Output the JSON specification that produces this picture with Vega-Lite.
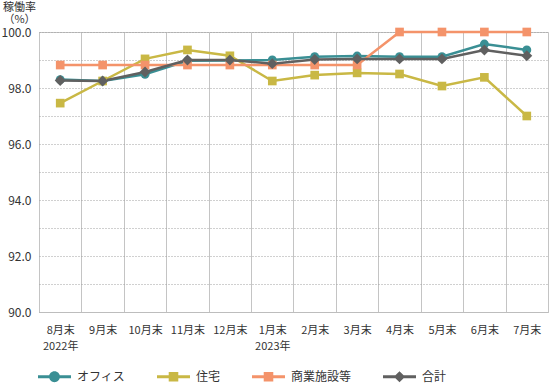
{
  "$schema": "https://vega.github.io/schema/vega-lite/v6.json",
  "width": 509,
  "height": 280,
  "autosize": {"type": "none"},
  "padding": {"left": 39, "top": 32, "right": 1, "bottom": 71},
  "background": "white",
  "config": {
    "font": "Noto Sans CJK JP",
    "view": {"stroke": "#c4c4c4", "strokeWidth": 1}
  },
  "data": {
    "values": [
      {"m": "8月末", "s": "オフィス", "v": 98.3},
      {"m": "9月末", "s": "オフィス", "v": 98.25},
      {"m": "10月末", "s": "オフィス", "v": 98.49},
      {"m": "11月末", "s": "オフィス", "v": 98.97},
      {"m": "12月末", "s": "オフィス", "v": 98.98},
      {"m": "1月末", "s": "オフィス", "v": 99.0},
      {"m": "2月末", "s": "オフィス", "v": 99.12},
      {"m": "3月末", "s": "オフィス", "v": 99.14},
      {"m": "4月末", "s": "オフィス", "v": 99.12},
      {"m": "5月末", "s": "オフィス", "v": 99.12},
      {"m": "6月末", "s": "オフィス", "v": 99.57},
      {"m": "7月末", "s": "オフィス", "v": 99.36},
      {"m": "8月末", "s": "住宅", "v": 97.46},
      {"m": "9月末", "s": "住宅", "v": 98.25},
      {"m": "10月末", "s": "住宅", "v": 99.04},
      {"m": "11月末", "s": "住宅", "v": 99.36},
      {"m": "12月末", "s": "住宅", "v": 99.15},
      {"m": "1月末", "s": "住宅", "v": 98.25},
      {"m": "2月末", "s": "住宅", "v": 98.46},
      {"m": "3月末", "s": "住宅", "v": 98.54},
      {"m": "4月末", "s": "住宅", "v": 98.5},
      {"m": "5月末", "s": "住宅", "v": 98.07},
      {"m": "6月末", "s": "住宅", "v": 98.38},
      {"m": "7月末", "s": "住宅", "v": 97.0},
      {"m": "8月末", "s": "商業施設等", "v": 98.82},
      {"m": "9月末", "s": "商業施設等", "v": 98.82},
      {"m": "10月末", "s": "商業施設等", "v": 98.82},
      {"m": "11月末", "s": "商業施設等", "v": 98.82},
      {"m": "12月末", "s": "商業施設等", "v": 98.82},
      {"m": "1月末", "s": "商業施設等", "v": 98.82},
      {"m": "2月末", "s": "商業施設等", "v": 98.82},
      {"m": "3月末", "s": "商業施設等", "v": 98.82},
      {"m": "4月末", "s": "商業施設等", "v": 100.0},
      {"m": "5月末", "s": "商業施設等", "v": 100.0},
      {"m": "6月末", "s": "商業施設等", "v": 100.0},
      {"m": "7月末", "s": "商業施設等", "v": 100.0},
      {"m": "8月末", "s": "合計", "v": 98.27},
      {"m": "9月末", "s": "合計", "v": 98.25},
      {"m": "10月末", "s": "合計", "v": 98.57},
      {"m": "11月末", "s": "合計", "v": 99.0},
      {"m": "12月末", "s": "合計", "v": 99.0},
      {"m": "1月末", "s": "合計", "v": 98.87},
      {"m": "2月末", "s": "合計", "v": 99.02},
      {"m": "3月末", "s": "合計", "v": 99.04},
      {"m": "4月末", "s": "合計", "v": 99.04},
      {"m": "5月末", "s": "合計", "v": 99.04},
      {"m": "6月末", "s": "合計", "v": 99.36},
      {"m": "7月末", "s": "合計", "v": 99.15}
    ]
  },
  "encoding": {
    "x": {
      "field": "m",
      "type": "ordinal",
      "sort": ["8月末","9月末","10月末","11月末","12月末","1月末","2月末","3月末","4月末","5月末","6月末","7月末"],
      "scale": {"type": "band", "paddingInner": 0, "paddingOuter": 0},
      "bandPosition": 0.5,
      "axis": {
        "title": null,
        "labelAngle": 0,
        "labelFontSize": 11,
        "labelColor": "#333",
        "labelPadding": 12,
        "labelLineHeight": 16,
        "labelBaseline": "top",
        "labelExpr": "datum.value == '8月末' ? ['8月末', '2022年'] : datum.value == '1月末' ? ['1月末', '2023年'] : datum.value",
        "ticks": false,
        "domain": true,
        "domainColor": "#bdbdbd",
        "grid": true,
        "gridColor": "#c4c4c4",
        "gridDash": [],
        "gridOpacity": 1,
        "tickBand": "extent"
      }
    },
    "y": {
      "field": "v",
      "type": "quantitative",
      "scale": {"domain": [90, 100], "nice": false, "zero": false},
      "axis": {
        "values": [90, 91, 92, 93, 94, 95, 96, 97, 98, 99, 100],
        "labelExpr": "datum.value % 2 == 0 ? format(datum.value, '.1f') : ''",
        "labelFontSize": 12,
        "labelColor": "#333",
        "labelPadding": 8,
        "ticks": false,
        "domain": false,
        "grid": true,
        "gridColor": "#a0a0a0",
        "gridDash": [1, 2],
        "title": ["稼働率", "（%）"],
        "titleFontSize": 11,
        "titleFontWeight": "normal",
        "titleColor": "#333",
        "titleAngle": 0,
        "titleAlign": "center",
        "titleBaseline": "top",
        "titleLineHeight": 12.5,
        "titleX": -20,
        "titleY": -31
      }
    },
    "color": {
      "field": "s",
      "type": "nominal",
      "scale": {
        "domain": ["オフィス", "住宅", "商業施設等", "合計"],
        "range": ["#3a8f94", "#c9b845", "#f4936a", "#606060"]
      },
      "legend": {
        "orient": "none",
        "legendX": -1,
        "legendY": 328,
        "direction": "horizontal",
        "title": null,
        "padding": 0,
        "columnPadding": 31,
        "labelOffset": 6,
        "labelFontSize": 12,
        "labelColor": "#333",
        "symbolSize": 1089,
        "symbolStrokeWidth": 0,
        "symbolOpacity": 1
      }
    }
  },
  "layer": [
    {
      "mark": {"type": "line", "strokeWidth": 2.5},
      "encoding": {}
    },
    {
      "transform": [{"filter": "datum.s == 'オフィス'"}],
      "mark": {"type": "point", "shape": "circle", "filled": true, "opacity": 1, "size": 80}
    },
    {
      "transform": [{"filter": "datum.s == '住宅' || datum.s == '商業施設等'"}],
      "mark": {"type": "point", "shape": "square", "filled": true, "opacity": 1, "size": 75}
    },
    {
      "transform": [{"filter": "datum.s == '合計'"}],
      "mark": {"type": "point", "shape": "diamond", "filled": true, "opacity": 1, "size": 120}
    },
    {
      "transform": [{"filter": "false"}],
      "mark": {"type": "point", "filled": true, "opacity": 1},
      "encoding": {
        "shape": {
          "field": "s",
          "type": "nominal",
          "scale": {
            "domain": ["オフィス", "住宅", "商業施設等", "合計"],
            "range": [
              "M-1,-0.09H-0.3V0.09H-1Z M0.3,-0.09H1V0.09H0.3Z M-0.33,0A0.33,0.33 0 1,1 0.33,0A0.33,0.33 0 1,1 -0.33,0Z",
              "M-1,-0.09H-0.29V0.09H-1Z M0.29,-0.09H1V0.09H0.29Z M-0.29,-0.29H0.29V0.29H-0.29Z",
              "M-1,-0.09H-0.29V0.09H-1Z M0.29,-0.09H1V0.09H0.29Z M-0.29,-0.29H0.29V0.29H-0.29Z",
              "M-1,-0.09H-0.2V0.09H-1Z M0.2,-0.09H1V0.09H0.2Z M0,-0.34L0.34,0L0,0.34L-0.34,0Z"
            ]
          },
          "legend": {
            "orient": "none",
            "legendX": -1,
            "legendY": 328,
            "direction": "horizontal",
            "title": null,
            "padding": 0,
            "columnPadding": 31,
            "labelOffset": 6,
            "labelFontSize": 12,
            "labelColor": "#333",
            "symbolSize": 1089,
            "symbolStrokeWidth": 0,
            "symbolOpacity": 1
          }
        }
      }
    }
  ]
}
